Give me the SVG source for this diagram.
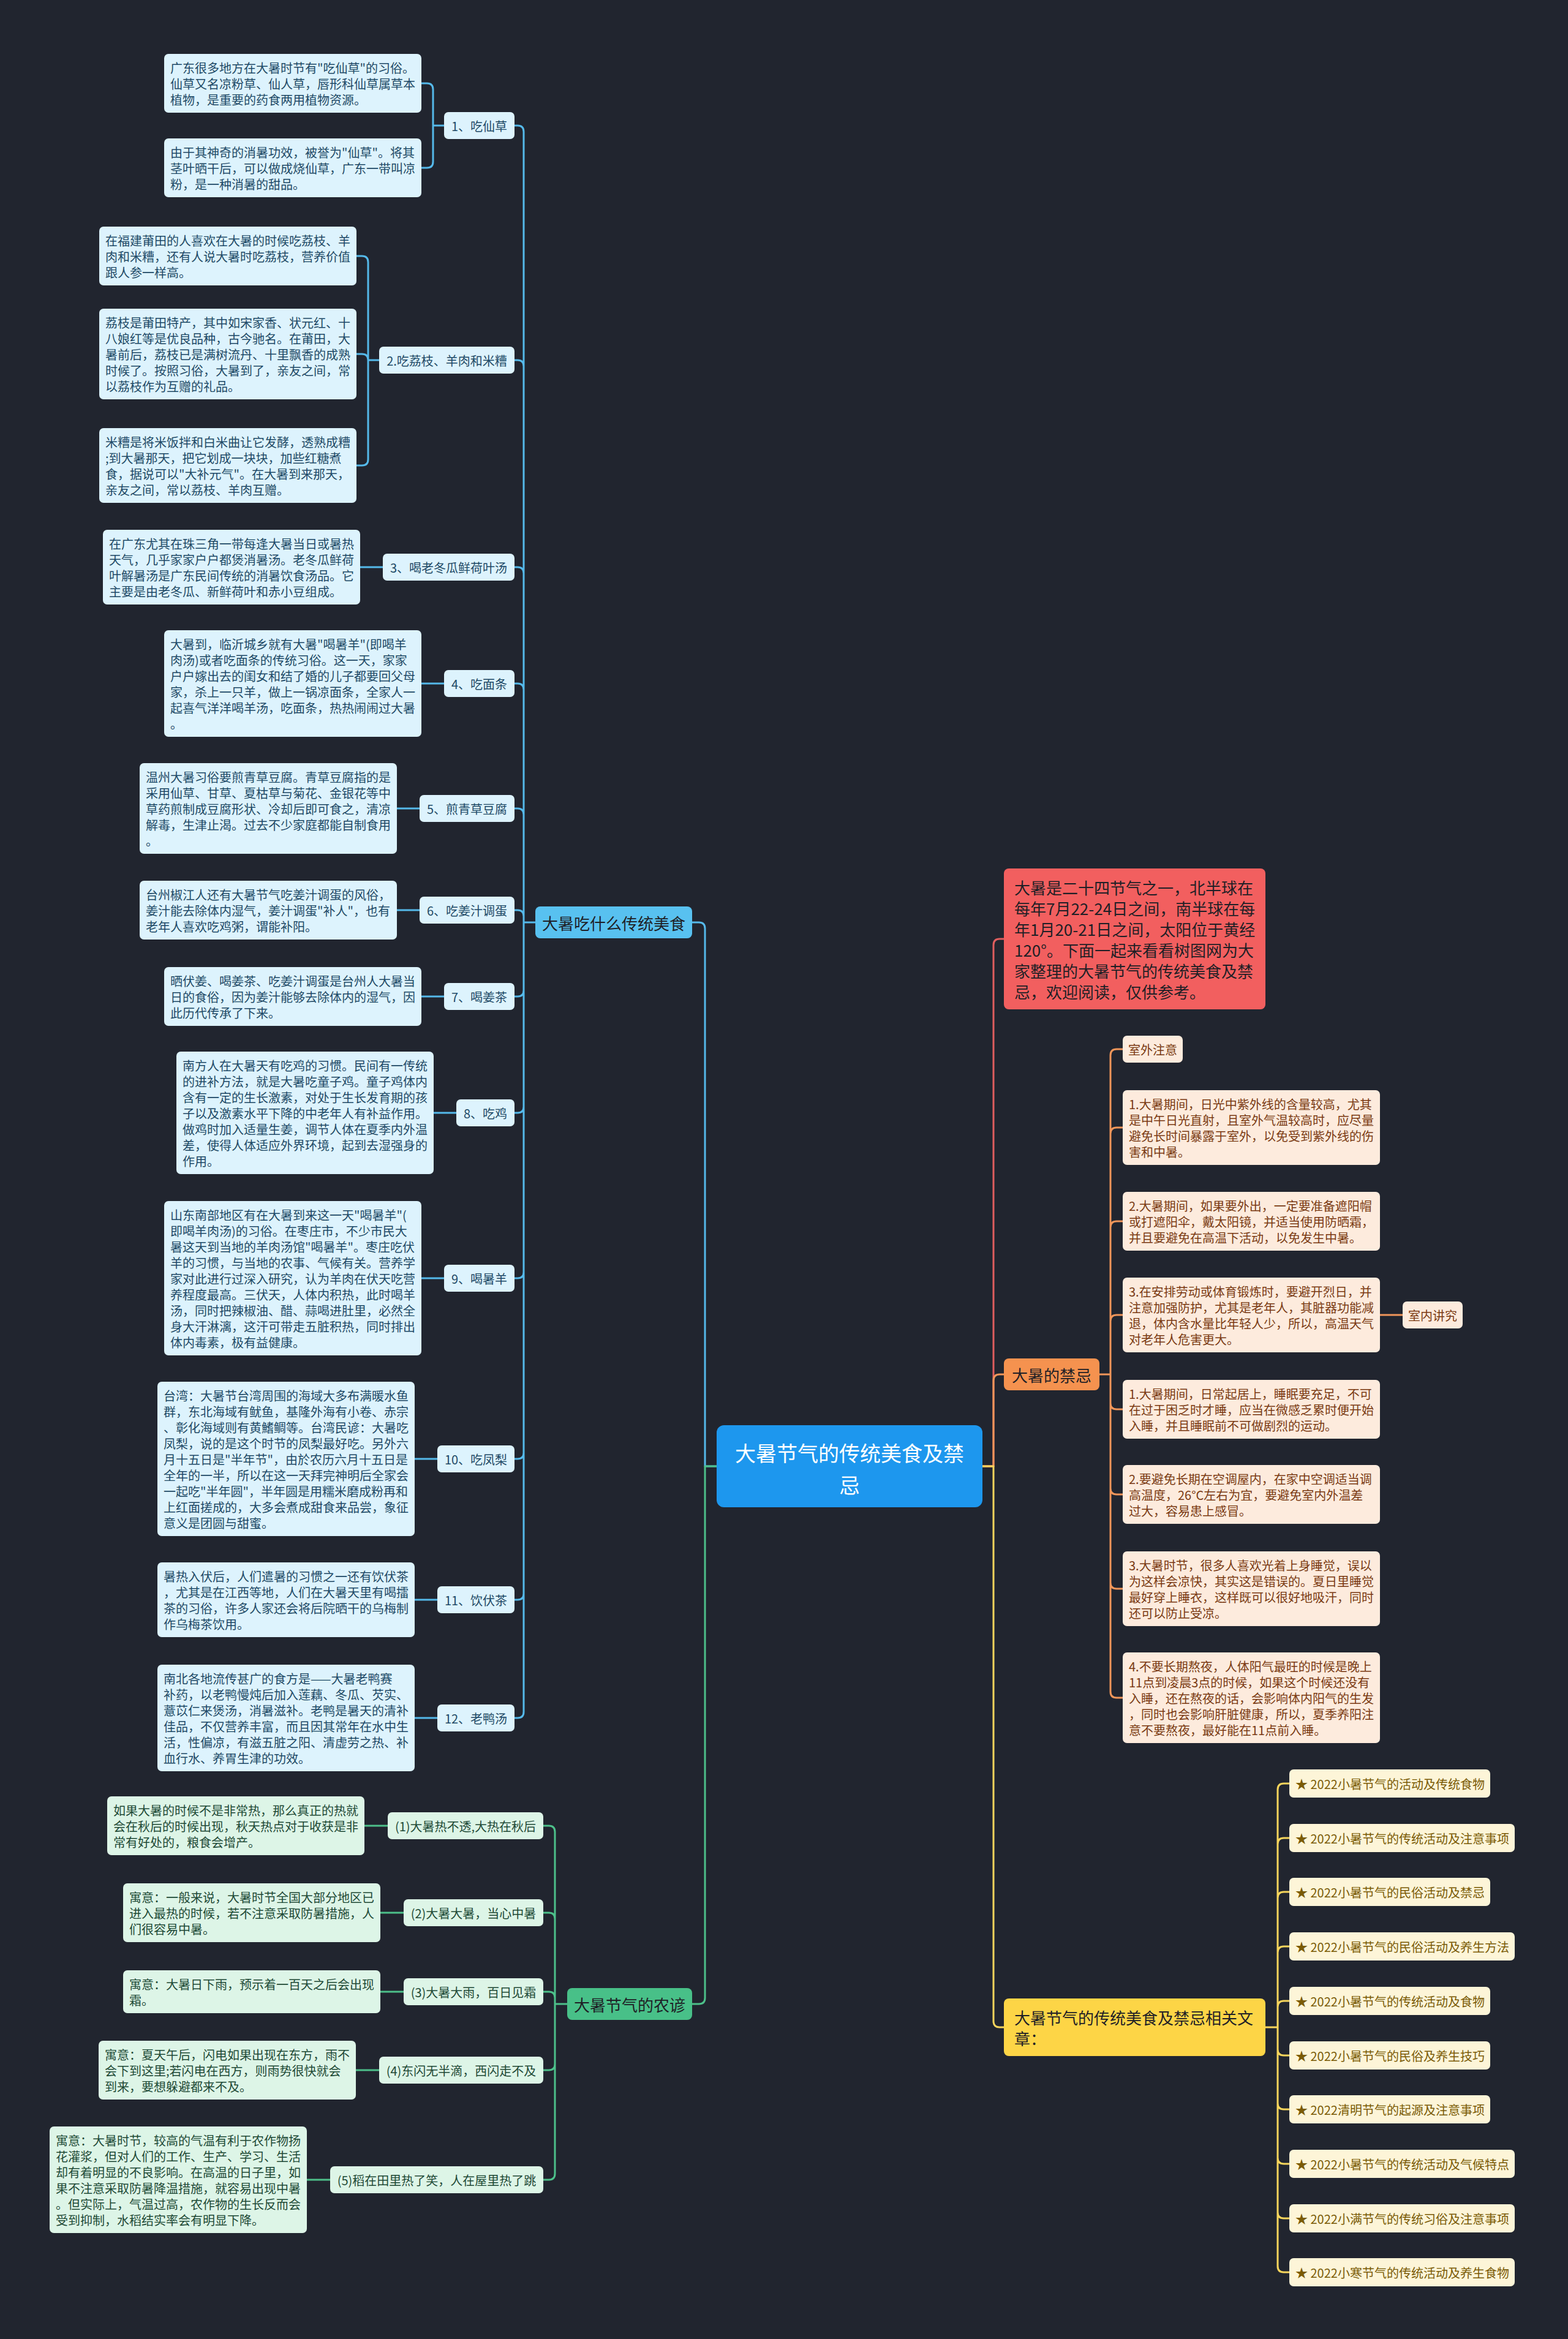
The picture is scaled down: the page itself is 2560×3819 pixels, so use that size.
<svg xmlns="http://www.w3.org/2000/svg" width="2560" height="3819" viewBox="0 0 2560 3819">
<style>
text{font-family:"Noto Sans CJK SC","Noto Sans",sans-serif;dominant-baseline:central}
.lb rect{fill:#DDF3FD}.lb text{fill:#1E4A66;font-size:20px}
.lg rect{fill:#DDF5E7}.lg text{fill:#1E4A36;font-size:20px}
.lo rect{fill:#FDEBDD}.lo text{fill:#7A3A12;font-size:20px}
.ly rect{fill:#FDF5D8}.ly text{fill:#7A5B05;font-size:20px}
.mid{text-anchor:middle}
.l1 text{font-size:26px;fill:#1F1F26}
.conn path{fill:none;stroke-width:3;stroke-linecap:round;stroke-linejoin:round}
.cb{stroke:#55B9EA}.cg{stroke:#4DC08A}.cr{stroke:#E05E5E}.co{stroke:#F0965A}.cy{stroke:#F6D55C}
</style>
<rect width="2560" height="3819" fill="#21252F"/>
<g id="connectors" class="conn">
<path class="cb" d="M1170 2394 H1151 V1516 Q1151 1506 1141 1506 H1130"/>
<path class="cg" d="M1170 2394 H1151 V3262 Q1151 3272 1141 3272 H1130"/>
<path class="cr" d="M1604 2394 H1622 V1543 Q1622 1533 1632 1533 H1639"/>
<path class="co" d="M1604 2394 H1622 V2254 Q1622 2244 1632 2244 H1639"/>
<path class="cy" d="M1604 2394 H1622 V3300 Q1622 3310 1632 3310 H1639"/>
<path class="cb" d="M874 1506 H855 V215 Q855 205 845 205 H840 M874 1506 H855 V598 Q855 588 845 588 H840 M874 1506 H855 V936 Q855 926 845 926 H840 M874 1506 H855 V1126 Q855 1116 845 1116 H840 M874 1506 H855 V1330 Q855 1320 845 1320 H840 M874 1506 H855 V1496 Q855 1486 845 1486 H840 M874 1506 H855 V1617 Q855 1627 845 1627 H840 M874 1506 H855 V1807 Q855 1817 845 1817 H840 M874 1506 H855 V2077 Q855 2087 845 2087 H840 M874 1506 H855 V2372 Q855 2382 845 2382 H840 M874 1506 H855 V2602 Q855 2612 845 2612 H840 M874 1506 H855 V2795 Q855 2805 845 2805 H840"/>
<path class="cb" d="M725 205 H707 V146 Q707 136 697 136 H688 M725 205 H707 V264 Q707 274 697 274 H688 M619 588 H601 V428 Q601 418 591 418 H582 M619 588 H601 V588 Q601 578 591 578 H582 M619 588 H601 V750 Q601 760 591 760 H582 M625 926 H588 M725 1116 H688 M685 1320 H648 M685 1486 H648 M725 1627 H688 M745 1817 H708 M725 2087 H688 M714 2382 H677 M714 2612 H677 M714 2805 H677"/>
<path class="cg" d="M926 3272 H906 V2991 Q906 2981 896 2981 H887 M926 3272 H906 V3133 Q906 3123 896 3123 H887 M926 3272 H906 V3262 Q906 3252 896 3252 H887 M926 3272 H906 V3370 Q906 3380 896 3380 H887 M926 3272 H906 V3549 Q906 3559 896 3559 H887 M633 2981 H595 M659 3123 H621 M659 3252 H621 M619 3380 H581 M539 3559 H501"/>
<path class="co" d="M1795 2244 H1813 V1723 Q1813 1713 1823 1713 H1833 M1795 2244 H1813 V1851 Q1813 1841 1823 1841 H1833 M1795 2244 H1813 V2004 Q1813 1994 1823 1994 H1833 M1795 2244 H1813 V2157 Q1813 2147 1823 2147 H1833 M1795 2244 H1813 V2291 Q1813 2301 1823 2301 H1833 M1795 2244 H1813 V2430 Q1813 2440 1823 2440 H1833 M1795 2244 H1813 V2584 Q1813 2594 1823 2594 H1833 M1795 2244 H1813 V2762 Q1813 2772 1823 2772 H1833 M2253 2147 H2290"/>
<path class="cy" d="M2066 3310 H2086 V2922 Q2086 2912 2096 2912 H2105 M2066 3310 H2086 V3011 Q2086 3001 2096 3001 H2105 M2066 3310 H2086 V3099 Q2086 3089 2096 3089 H2105 M2066 3310 H2086 V3188 Q2086 3178 2096 3178 H2105 M2066 3310 H2086 V3277 Q2086 3267 2096 3267 H2105 M2066 3310 H2086 V3346 Q2086 3356 2096 3356 H2105 M2066 3310 H2086 V3434 Q2086 3444 2096 3444 H2105 M2066 3310 H2086 V3523 Q2086 3533 2096 3533 H2105 M2066 3310 H2086 V3612 Q2086 3622 2096 3622 H2105 M2066 3310 H2086 V3700 Q2086 3710 2096 3710 H2105"/>
</g>
<g id="center"><rect x="1170" y="2327" width="434" height="134" rx="12" fill="#1D97EE"/><text class="mid" x="1387" y="2371" font-size="34" fill="#FFFFFF">大暑节气的传统美食及禁</text><text class="mid" x="1387" y="2423" font-size="34" fill="#FFFFFF">忌</text></g>
<g id="intro" class="l1"><rect x="1639" y="1418" width="427" height="230" rx="8" fill="#F25F5F"/><text x="1656" y="1448">大暑是二十四节气之一，北半球在</text><text x="1656" y="1482">每年7月22-24日之间，南半球在每</text><text x="1656" y="1516">年1月20-21日之间，太阳位于黄经</text><text x="1656" y="1550">120°。下面一起来看看树图网为大</text><text x="1656" y="1584">家整理的大暑节气的传统美食及禁</text><text x="1656" y="1618">忌，欢迎阅读，仅供参考。</text></g>
<g id="food" class="l1"><rect x="874" y="1480" width="256" height="52" rx="8" fill="#58C1F0"/><text class="mid" x="1002" y="1506">大暑吃什么传统美食</text></g>
<g id="proverb" class="l1"><rect x="926" y="3246" width="204" height="52" rx="8" fill="#48C088"/><text class="mid" x="1028" y="3272">大暑节气的农谚</text></g>
<g id="taboo" class="l1"><rect x="1639" y="2218" width="156" height="52" rx="8" fill="#F5924F"/><text class="mid" x="1717" y="2244">大暑的禁忌</text></g>
<g id="related" class="l1"><rect x="1639" y="3263" width="427" height="94" rx="8" fill="#FDD546"/><text x="1656" y="3293">大暑节气的传统美食及禁忌相关文</text><text x="1656" y="3327">章：</text></g>
<g id="n1" class="lb"><rect x="725" y="183" width="115" height="44" rx="7"/><text class="mid" x="782.5" y="205">1、吃仙草</text></g>
<g id="n2" class="lb"><rect x="619" y="566" width="221" height="44" rx="7"/><text class="mid" x="729.5" y="588">2.吃荔枝、羊肉和米糟</text></g>
<g id="n3" class="lb"><rect x="625" y="904" width="215" height="44" rx="7"/><text class="mid" x="732.5" y="926">3、喝老冬瓜鲜荷叶汤</text></g>
<g id="n4" class="lb"><rect x="725" y="1094" width="115" height="44" rx="7"/><text class="mid" x="782.5" y="1116">4、吃面条</text></g>
<g id="n5" class="lb"><rect x="685" y="1298" width="155" height="44" rx="7"/><text class="mid" x="762.5" y="1320">5、煎青草豆腐</text></g>
<g id="n6" class="lb"><rect x="685" y="1464" width="155" height="44" rx="7"/><text class="mid" x="762.5" y="1486">6、吃姜汁调蛋</text></g>
<g id="n7" class="lb"><rect x="725" y="1605" width="115" height="44" rx="7"/><text class="mid" x="782.5" y="1627">7、喝姜茶</text></g>
<g id="n8" class="lb"><rect x="745" y="1795" width="95" height="44" rx="7"/><text class="mid" x="792.5" y="1817">8、吃鸡</text></g>
<g id="n9" class="lb"><rect x="725" y="2065" width="115" height="44" rx="7"/><text class="mid" x="782.5" y="2087">9、喝暑羊</text></g>
<g id="n10" class="lb"><rect x="714" y="2360" width="126" height="44" rx="7"/><text class="mid" x="777" y="2382">10、吃凤梨</text></g>
<g id="n11" class="lb"><rect x="714" y="2590" width="126" height="44" rx="7"/><text class="mid" x="777" y="2612">11、饮伏茶</text></g>
<g id="n12" class="lb"><rect x="714" y="2783" width="126" height="44" rx="7"/><text class="mid" x="777" y="2805">12、老鸭汤</text></g>
<g id="a1" class="lb"><rect x="268" y="88" width="420" height="96" rx="7"/><text x="278" y="110">广东很多地方在大暑时节有"吃仙草"的习俗。</text><text x="278" y="136">仙草又名凉粉草、仙人草，唇形科仙草属草本</text><text x="278" y="162">植物，是重要的药食两用植物资源。</text></g>
<g id="a2" class="lb"><rect x="268" y="226" width="420" height="96" rx="7"/><text x="278" y="248">由于其神奇的消暑功效，被誉为"仙草"。将其</text><text x="278" y="274">茎叶晒干后，可以做成烧仙草，广东一带叫凉</text><text x="278" y="300">粉，是一种消暑的甜品。</text></g>
<g id="b1" class="lb"><rect x="162" y="370" width="420" height="96" rx="7"/><text x="172" y="392">在福建莆田的人喜欢在大暑的时候吃荔枝、羊</text><text x="172" y="418">肉和米糟，还有人说大暑时吃荔枝，营养价值</text><text x="172" y="444">跟人参一样高。</text></g>
<g id="b2" class="lb"><rect x="162" y="504" width="420" height="148" rx="7"/><text x="172" y="526">荔枝是莆田特产，其中如宋家香、状元红、十</text><text x="172" y="552">八娘红等是优良品种，古今驰名。在莆田，大</text><text x="172" y="578">暑前后，荔枝已是满树流丹、十里飘香的成熟</text><text x="172" y="604">时候了。按照习俗，大暑到了，亲友之间，常</text><text x="172" y="630">以荔枝作为互赠的礼品。</text></g>
<g id="b3" class="lb"><rect x="162" y="699" width="420" height="122" rx="7"/><text x="172" y="721">米糟是将米饭拌和白米曲让它发酵，透熟成糟</text><text x="172" y="747">;到大暑那天，把它划成一块块，加些红糖煮</text><text x="172" y="773">食，据说可以"大补元气"。在大暑到来那天，</text><text x="172" y="799">亲友之间，常以荔枝、羊肉互赠。</text></g>
<g id="c1" class="lb"><rect x="168" y="865" width="420" height="122" rx="7"/><text x="178" y="887">在广东尤其在珠三角一带每逢大暑当日或暑热</text><text x="178" y="913">天气，几乎家家户户都煲消暑汤。老冬瓜鲜荷</text><text x="178" y="939">叶解暑汤是广东民间传统的消暑饮食汤品。它</text><text x="178" y="965">主要是由老冬瓜、新鲜荷叶和赤小豆组成。</text></g>
<g id="d1" class="lb"><rect x="268" y="1029" width="420" height="174" rx="7"/><text x="278" y="1051">大暑到，临沂城乡就有大暑"喝暑羊"(即喝羊</text><text x="278" y="1077">肉汤)或者吃面条的传统习俗。这一天，家家</text><text x="278" y="1103">户户嫁出去的闺女和结了婚的儿子都要回父母</text><text x="278" y="1129">家，杀上一只羊，做上一锅凉面条，全家人一</text><text x="278" y="1155">起喜气洋洋喝羊汤，吃面条，热热闹闹过大暑</text><text x="278" y="1181">。</text></g>
<g id="e1" class="lb"><rect x="228" y="1246" width="420" height="148" rx="7"/><text x="238" y="1268">温州大暑习俗要煎青草豆腐。青草豆腐指的是</text><text x="238" y="1294">采用仙草、甘草、夏枯草与菊花、金银花等中</text><text x="238" y="1320">草药煎制成豆腐形状、冷却后即可食之，清凉</text><text x="238" y="1346">解毒，生津止渴。过去不少家庭都能自制食用</text><text x="238" y="1372">。</text></g>
<g id="f1" class="lb"><rect x="228" y="1438" width="420" height="96" rx="7"/><text x="238" y="1460">台州椒江人还有大暑节气吃姜汁调蛋的风俗，</text><text x="238" y="1486">姜汁能去除体内湿气，姜汁调蛋"补人"，也有</text><text x="238" y="1512">老年人喜欢吃鸡粥，谓能补阳。</text></g>
<g id="g1" class="lb"><rect x="268" y="1579" width="420" height="96" rx="7"/><text x="278" y="1601">晒伏姜、喝姜茶、吃姜汁调蛋是台州人大暑当</text><text x="278" y="1627">日的食俗，因为姜汁能够去除体内的湿气，因</text><text x="278" y="1653">此历代传承了下来。</text></g>
<g id="h1" class="lb"><rect x="288" y="1717" width="420" height="200" rx="7"/><text x="298" y="1739">南方人在大暑天有吃鸡的习惯。民间有一传统</text><text x="298" y="1765">的进补方法，就是大暑吃童子鸡。童子鸡体内</text><text x="298" y="1791">含有一定的生长激素，对处于生长发育期的孩</text><text x="298" y="1817">子以及激素水平下降的中老年人有补益作用。</text><text x="298" y="1843">做鸡时加入适量生姜，调节人体在夏季内外温</text><text x="298" y="1869">差，使得人体适应外界环境，起到去湿强身的</text><text x="298" y="1895">作用。</text></g>
<g id="i1" class="lb"><rect x="268" y="1961" width="420" height="252" rx="7"/><text x="278" y="1983">山东南部地区有在大暑到来这一天"喝暑羊"(</text><text x="278" y="2009">即喝羊肉汤)的习俗。在枣庄市，不少市民大</text><text x="278" y="2035">暑这天到当地的羊肉汤馆"喝暑羊"。枣庄吃伏</text><text x="278" y="2061">羊的习惯，与当地的农事、气候有关。营养学</text><text x="278" y="2087">家对此进行过深入研究，认为羊肉在伏天吃营</text><text x="278" y="2113">养程度最高。三伏天，人体内积热，此时喝羊</text><text x="278" y="2139">汤，同时把辣椒油、醋、蒜喝进肚里，必然全</text><text x="278" y="2165">身大汗淋漓，这汗可带走五脏积热，同时排出</text><text x="278" y="2191">体内毒素，极有益健康。</text></g>
<g id="j1" class="lb"><rect x="257" y="2256" width="420" height="252" rx="7"/><text x="267" y="2278">台湾：大暑节台湾周围的海域大多布满暖水鱼</text><text x="267" y="2304">群，东北海域有鱿鱼，基隆外海有小卷、赤宗</text><text x="267" y="2330">、彰化海域则有黄鰭鲷等。台湾民谚：大暑吃</text><text x="267" y="2356">凤梨，说的是这个时节的凤梨最好吃。另外六</text><text x="267" y="2382">月十五日是"半年节"，由於农历六月十五日是</text><text x="267" y="2408">全年的一半，所以在这一天拜完神明后全家会</text><text x="267" y="2434">一起吃"半年圆"，半年圆是用糯米磨成粉再和</text><text x="267" y="2460">上红面搓成的，大多会煮成甜食来品尝，象征</text><text x="267" y="2486">意义是团圆与甜蜜。</text></g>
<g id="k1" class="lb"><rect x="257" y="2551" width="420" height="122" rx="7"/><text x="267" y="2573">暑热入伏后，人们遣暑的习惯之一还有饮伏茶</text><text x="267" y="2599">，尤其是在江西等地，人们在大暑天里有喝擂</text><text x="267" y="2625">茶的习俗，许多人家还会将后院晒干的乌梅制</text><text x="267" y="2651">作乌梅茶饮用。</text></g>
<g id="l1" class="lb"><rect x="257" y="2718" width="420" height="174" rx="7"/><text x="267" y="2740">南北各地流传甚广的食方是——大暑老鸭赛</text><text x="267" y="2766">补药，以老鸭慢炖后加入莲藕、冬瓜、芡实、</text><text x="267" y="2792">薏苡仁来煲汤，消暑滋补。老鸭是暑天的清补</text><text x="267" y="2818">佳品，不仅营养丰富，而且因其常年在水中生</text><text x="267" y="2844">活，性偏凉，有滋五脏之阳、清虚劳之热、补</text><text x="267" y="2870">血行水、养胃生津的功效。</text></g>
<g id="s1" class="lg"><rect x="633" y="2959" width="254" height="44" rx="7"/><text class="mid" x="760" y="2981">(1)大暑热不透,大热在秋后</text></g>
<g id="s2" class="lg"><rect x="659" y="3101" width="228" height="44" rx="7"/><text class="mid" x="773" y="3123">(2)大暑大暑，当心中暑</text></g>
<g id="s3" class="lg"><rect x="659" y="3230" width="228" height="44" rx="7"/><text class="mid" x="773" y="3252">(3)大暑大雨，百日见霜</text></g>
<g id="s4" class="lg"><rect x="619" y="3358" width="268" height="44" rx="7"/><text class="mid" x="753" y="3380">(4)东闪无半滴，西闪走不及</text></g>
<g id="s5" class="lg"><rect x="539" y="3537" width="348" height="44" rx="7"/><text class="mid" x="713" y="3559">(5)稻在田里热了笑，人在屋里热了跳</text></g>
<g id="p1" class="lg"><rect x="175" y="2933" width="420" height="96" rx="7"/><text x="185" y="2955">如果大暑的时候不是非常热，那么真正的热就</text><text x="185" y="2981">会在秋后的时候出现，秋天热点对于收获是非</text><text x="185" y="3007">常有好处的，粮食会增产。</text></g>
<g id="p2" class="lg"><rect x="201" y="3075" width="420" height="96" rx="7"/><text x="211" y="3097">寓意：一般来说，大暑时节全国大部分地区已</text><text x="211" y="3123">进入最热的时候，若不注意采取防暑措施，人</text><text x="211" y="3149">们很容易中暑。</text></g>
<g id="p3" class="lg"><rect x="201" y="3217" width="420" height="70" rx="7"/><text x="211" y="3239">寓意：大暑日下雨，预示着一百天之后会出现</text><text x="211" y="3265">霜。</text></g>
<g id="p4" class="lg"><rect x="161" y="3332" width="420" height="96" rx="7"/><text x="171" y="3354">寓意：夏天午后，闪电如果出现在东方，雨不</text><text x="171" y="3380">会下到这里;若闪电在西方，则雨势很快就会</text><text x="171" y="3406">到来，要想躲避都来不及。</text></g>
<g id="p5" class="lg"><rect x="81" y="3472" width="420" height="174" rx="7"/><text x="91" y="3494">寓意：大暑时节，较高的气温有利于农作物扬</text><text x="91" y="3520">花灌浆，但对人们的工作、生产、学习、生活</text><text x="91" y="3546">却有着明显的不良影响。在高温的日子里，如</text><text x="91" y="3572">果不注意采取防暑降温措施，就容易出现中暑</text><text x="91" y="3598">。但实际上，气温过高，农作物的生长反而会</text><text x="91" y="3624">受到抑制，水稻结实率会有明显下降。</text></g>
<g id="t0" class="lo"><rect x="1833" y="1691" width="98" height="44" rx="7"/><text class="mid" x="1882" y="1713">室外注意</text></g>
<g id="t1" class="lo"><rect x="1833" y="1780" width="420" height="122" rx="7"/><text x="1843" y="1802">1.大暑期间，日光中紫外线的含量较高，尤其</text><text x="1843" y="1828">是中午日光直射，且室外气温较高时，应尽量</text><text x="1843" y="1854">避免长时间暴露于室外，以免受到紫外线的伤</text><text x="1843" y="1880">害和中暑。</text></g>
<g id="t2" class="lo"><rect x="1833" y="1946" width="420" height="96" rx="7"/><text x="1843" y="1968">2.大暑期间，如果要外出，一定要准备遮阳帽</text><text x="1843" y="1994">或打遮阳伞，戴太阳镜，并适当使用防晒霜，</text><text x="1843" y="2020">并且要避免在高温下活动，以免发生中暑。</text></g>
<g id="t3" class="lo"><rect x="1833" y="2086" width="420" height="122" rx="7"/><text x="1843" y="2108">3.在安排劳动或体育锻炼时，要避开烈日，并</text><text x="1843" y="2134">注意加强防护，尤其是老年人，其脏器功能减</text><text x="1843" y="2160">退，体内含水量比年轻人少，所以，高温天气</text><text x="1843" y="2186">对老年人危害更大。</text></g>
<g id="t3b" class="lo"><rect x="2290" y="2125" width="98" height="44" rx="7"/><text class="mid" x="2339" y="2147">室内讲究</text></g>
<g id="t4" class="lo"><rect x="1833" y="2253" width="420" height="96" rx="7"/><text x="1843" y="2275">1.大暑期间，日常起居上，睡眠要充足，不可</text><text x="1843" y="2301">在过于困乏时才睡，应当在微感乏累时便开始</text><text x="1843" y="2327">入睡，并且睡眠前不可做剧烈的运动。</text></g>
<g id="t5" class="lo"><rect x="1833" y="2392" width="420" height="96" rx="7"/><text x="1843" y="2414">2.要避免长期在空调屋内，在家中空调适当调</text><text x="1843" y="2440">高温度，26°C左右为宜，要避免室内外温差</text><text x="1843" y="2466">过大，容易患上感冒。</text></g>
<g id="t6" class="lo"><rect x="1833" y="2533" width="420" height="122" rx="7"/><text x="1843" y="2555">3.大暑时节，很多人喜欢光着上身睡觉，误以</text><text x="1843" y="2581">为这样会凉快，其实这是错误的。夏日里睡觉</text><text x="1843" y="2607">最好穿上睡衣，这样既可以很好地吸汗，同时</text><text x="1843" y="2633">还可以防止受凉。</text></g>
<g id="t7" class="lo"><rect x="1833" y="2698" width="420" height="148" rx="7"/><text x="1843" y="2720">4.不要长期熬夜，人体阳气最旺的时候是晚上</text><text x="1843" y="2746">11点到凌晨3点的时候，如果这个时候还没有</text><text x="1843" y="2772">入睡，还在熬夜的话，会影响体内阳气的生发</text><text x="1843" y="2798">，同时也会影响肝脏健康，所以，夏季养阳注</text><text x="1843" y="2824">意不要熬夜，最好能在11点前入睡。</text></g>
<g id="r0" class="ly"><rect x="2105" y="2889" width="328" height="46" rx="7"/><text x="2115" y="2912">★ 2022小暑节气的活动及传统食物</text></g>
<g id="r1" class="ly"><rect x="2105" y="2978" width="368" height="46" rx="7"/><text x="2115" y="3001">★ 2022小暑节气的传统活动及注意事项</text></g>
<g id="r2" class="ly"><rect x="2105" y="3066" width="328" height="46" rx="7"/><text x="2115" y="3089">★ 2022小暑节气的民俗活动及禁忌</text></g>
<g id="r3" class="ly"><rect x="2105" y="3155" width="368" height="46" rx="7"/><text x="2115" y="3178">★ 2022小暑节气的民俗活动及养生方法</text></g>
<g id="r4" class="ly"><rect x="2105" y="3244" width="328" height="46" rx="7"/><text x="2115" y="3267">★ 2022小暑节气的传统活动及食物</text></g>
<g id="r5" class="ly"><rect x="2105" y="3333" width="328" height="46" rx="7"/><text x="2115" y="3356">★ 2022小暑节气的民俗及养生技巧</text></g>
<g id="r6" class="ly"><rect x="2105" y="3421" width="328" height="46" rx="7"/><text x="2115" y="3444">★ 2022清明节气的起源及注意事项</text></g>
<g id="r7" class="ly"><rect x="2105" y="3510" width="368" height="46" rx="7"/><text x="2115" y="3533">★ 2022小暑节气的传统活动及气候特点</text></g>
<g id="r8" class="ly"><rect x="2105" y="3599" width="368" height="46" rx="7"/><text x="2115" y="3622">★ 2022小满节气的传统习俗及注意事项</text></g>
<g id="r9" class="ly"><rect x="2105" y="3687" width="368" height="46" rx="7"/><text x="2115" y="3710">★ 2022小寒节气的传统活动及养生食物</text></g>
</svg>
